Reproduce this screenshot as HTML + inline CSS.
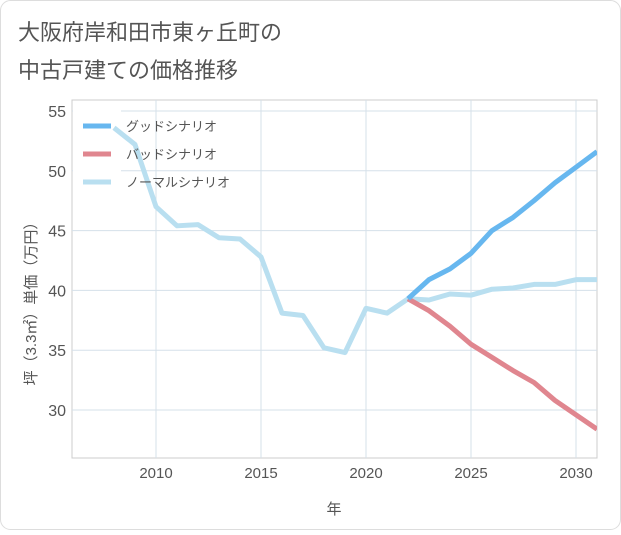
<!DOCTYPE html>
<html><head><meta charset="utf-8"><style>
body{margin:0;background:#fff;font-family:"Liberation Sans","Noto Sans CJK JP",sans-serif}
</style></head><body>
<svg width="621" height="530" xmlns="http://www.w3.org/2000/svg">
<rect x="0.5" y="0.5" width="620" height="529" rx="10" fill="#fff" stroke="#ddd"/>
<text x="18" y="40" font-size="22" fill="#555">大阪府岸和田市東ヶ丘町の</text>
<text x="18" y="78" font-size="22" fill="#555">中古戸建ての価格推移</text>
<g id="plot"></g>
</svg>
<script>
const years=[2008,2009,2010,2011,2012,2013,2014,2015,2016,2017,2018,2019,2020,2021,2022,2023,2024,2025,2026,2027,2028,2029,2030,2031];
const normal=[53.6,52.2,47,45.4,45.5,44.4,44.3,42.8,38.1,37.9,35.2,34.8,38.5,38.1,39.3,39.2,39.7,39.6,40.1,40.2,40.5,40.5,40.9,40.9];
const goodYears=[2022,2023,2024,2025,2026,2027,2028,2029,2030,2031];
const good=[39.3,40.9,41.8,43.1,45,46.1,47.5,49,50.3,51.6];
const bad=[39.3,38.3,37,35.5,34.4,33.3,32.3,30.8,29.6,28.4];
const xTicks=[2010,2015,2020,2025,2030];
const yTicks=[30,35,40,45,50,55];
const X0=72,X1=597,Y0=100,Y1=458;
const xs=v=>X0+(v-2006)*21;
const ys=v=>111+(55-v)*11.96;
const NS="http://www.w3.org/2000/svg";
const g=document.getElementById('plot');
function mk(t,a,txt){const e=document.createElementNS(NS,t);for(const k in a)e.setAttribute(k,a[k]);if(txt!==undefined)e.textContent=txt;g.appendChild(e);return e;}
let r=mk('rect',{x:X0,y:Y0,width:X1-X0,height:Y1-Y0,fill:'#fff',stroke:'#ccc'});


xTicks.forEach(t=>{let l=mk('line',{x1:xs(t),x2:xs(t),y1:Y0,y2:Y1,stroke:'#d5e0ea'});


let tx=mk('text',{x:xs(t),y:478,'font-size':15,fill:'#555','text-anchor':'middle'},t);

});
yTicks.forEach(t=>{let l=mk('line',{x1:X0,x2:X1,y1:ys(t),y2:ys(t),stroke:'#d5e0ea'});


let tx=mk('text',{x:66,y:ys(t)+6,'font-size':16,fill:'#555','text-anchor':'end'},t);

});
let lb=mk('rect',{x:X0+1,y:106,width:48,height:94,fill:'#fff'});


let xt=mk('text',{x:334,y:514,'font-size':15,fill:'#555','text-anchor':'middle'},'年');


let yt=mk('text',{x:0,y:0,'font-size':15,fill:'#555','text-anchor':'middle',transform:'translate(36,300) rotate(-90)'},'坪（3.3㎡）単価（万円）');


const cp=document.createElementNS(NS,'clipPath');cp.id='c';const cr=document.createElementNS(NS,'rect');cr.setAttribute('x',X0);cr.setAttribute('y',Y0);cr.setAttribute('width',X1-X0);cr.setAttribute('height',Y1-Y0);cp.appendChild(cr);g.appendChild(cp);
function line(xv,yv,col,name){const d=xv.map((x,i)=>(i?'L':'M')+xs(x)+','+ys(yv[i])).join('');
let p=mk('path',{d:d,fill:'none',stroke:col,'stroke-width':5,'stroke-linejoin':'round','clip-path':'url(#c)'});

}
line(years,normal,'#b9dff0','normal-scenario-line');
line(goodYears,bad,'#e0868f','bad-scenario-line');
line(goodYears,good,'#67b7ef','good-scenario-line');
const leg=[['グッドシナリオ','#67b7ef'],['バッドシナリオ','#e0868f'],['ノーマルシナリオ','#b9dff0']];
leg.forEach((l,i)=>{const y=126+i*28;
let s=mk('line',{x1:83,x2:111,y1:y,y2:y,stroke:l[1],'stroke-width':5});


let t=mk('text',{x:126,y:y+5,'font-size':13,fill:'#555'},l[0]);

});
</script>
</body></html>
